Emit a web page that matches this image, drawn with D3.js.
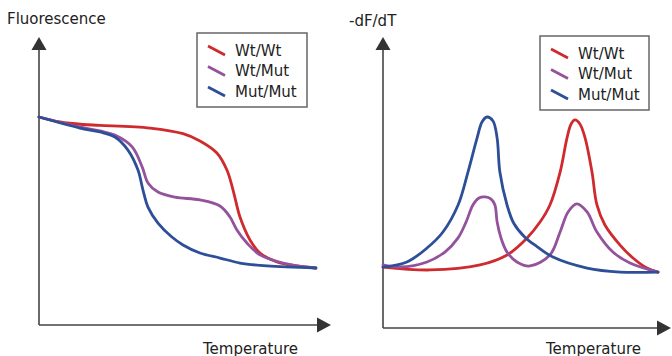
<!DOCTYPE html>
<html>
<head>
<meta charset="utf-8">
<script src="https://cdn.jsdelivr.net/npm/d3@7"></script>
<style>
  body { margin: 0; background: #fff; }
  text { font-family: 'DejaVu Sans', sans-serif; fill: #222; }
</style>
</head>
<body>
<div id="chart"></div>
<script>
// genotypes and colours
let genotypes = ['Wt/Wt', 'Wt/Mut', 'Mut/Mut']
let colors = ['#cf2a2d', '#94529c', '#2c4f98']

// melt curves: [temperature (0-100), fluorescence (0-100)]
let meltWtWt = [[0, 100], [7.6, 97.6], [15.8, 96.4], [21.9, 96.0], [39.9, 94.7], [51.8, 92.0],
  [57.9, 88.5], [64.0, 82.7], [67.6, 74.5], [69.8, 64.9], [72.3, 51.9], [75.9, 40.9],
  [79.5, 34.6], [85.6, 30.3], [92.8, 28.4], [99.6, 27.4]]
let meltWtMut = [[0, 100], [14.7, 95.2], [21.9, 93.3], [27.3, 91.3], [33.5, 85.6], [37.1, 76.0],
  [39.2, 68.3], [42.8, 63.9], [48.9, 61.5], [57.9, 60.1], [65.1, 57.2], [68.7, 51.9],
  [71.2, 45.7], [74.8, 39.4], [79.5, 33.7], [87.8, 29.8], [99.6, 27.4]]
let meltMutMut = [[0, 100], [14.7, 94.7], [21.9, 92.8], [27.3, 90.4], [32.0, 84.1], [35.6, 74.5],
  [37.4, 64.9], [39.2, 56.7], [42.8, 49.0], [47.8, 42.3], [51.8, 38.5], [57.9, 34.6],
  [65.1, 32.2], [72.3, 29.8], [82.0, 28.4], [99.6, 27.4]]

// derivative curves: [temperature (0-100), -dF/dT (0-100)]
let derivWtWt = [[0, 28.9], [17.1, 27.5], [35.3, 29.9], [45.1, 34.6], [52.4, 42.7], [57.1, 50.2],
  [60.7, 58.3], [64.4, 73.9], [66.9, 90.0], [68.4, 96.7], [69.8, 98.6], [71.6, 96.7],
  [73.5, 90.0], [76.0, 73.9], [77.8, 58.3], [80.7, 48.8], [86.2, 39.3], [90.9, 33.2],
  [96.0, 28.4], [100, 26.5]]
let derivWtMut = [[0, 29.9], [6.2, 28.9], [16.0, 31.3], [22.5, 36.0], [27.3, 42.7], [30.2, 50.2],
  [32.7, 58.3], [34.9, 61.6], [37.1, 62.1], [39.3, 61.1], [40.7, 58.3], [41.5, 50.2],
  [42.9, 42.7], [45.1, 36.0], [48.7, 31.3], [53.5, 29.4], [60.7, 34.6], [64.4, 45.5],
  [67.3, 55.0], [70.5, 58.8], [74.2, 55.0], [77.8, 45.5], [83.6, 36.0], [89.8, 30.8],
  [100, 26.5]]
let derivMutMut = [[0, 28.9], [8.7, 31.3], [16.0, 37.9], [21.8, 45.5], [27.3, 58.3], [30.9, 73.9],
  [34.2, 90.0], [36.0, 97.6], [37.8, 100], [40.0, 98.1], [41.5, 90.0], [42.5, 73.9],
  [45.1, 58.3], [47.6, 49.5], [51.6, 43.0], [56.0, 38.6], [61.8, 33.6], [74.2, 28.4],
  [86.2, 26.5], [100, 26.5]]

let width = 672
let height = 356

let svg = d3
  .select('#chart')
  .append('svg')
  .attr('width', width)
  .attr('height', height)

let axisColor = '#444'
let fontSize = 15

// one panel per plot
let panels = [
  {
    yLabel: 'Fluorescence', yLabelX: 7, yLabelY: 24,
    series: [meltWtWt, meltWtMut, meltMutMut],
    x: d3.scaleLinear().domain([0, 100]).range([39, 317]),
    y: d3.scaleLinear().domain([0, 100]).range([325, 117]),
    axisX0: 39, axisY0: 325, yTip: 37, xTip: 331,
    legend: { x: 197, y: 33, w: 110, h: 74, first: 50 },
    tempX: 203
  },
  {
    yLabel: '-dF/dT', yLabelX: 349, yLabelY: 26,
    series: [derivWtWt, derivWtMut, derivMutMut],
    x: d3.scaleLinear().domain([0, 100]).range([383, 658]),
    y: d3.scaleLinear().domain([0, 100]).range([328, 117]),
    axisX0: 383, axisY0: 328, yTip: 37, xTip: 671,
    legend: { x: 540, y: 36, w: 109, h: 74, first: 53 },
    tempX: 546
  }
]

panels.forEach(function(p) {
  let g = svg.append('g')

  // axes: plain lines with filled arrow heads
  g.append('line')
    .attr('x1', p.axisX0).attr('y1', p.axisY0)
    .attr('x2', p.axisX0).attr('y2', p.yTip + 12)
    .attr('stroke', axisColor).attr('stroke-width', 1.6)
  g.append('path')
    .attr('d', `M${p.axisX0},${p.yTip} L${p.axisX0 - 7.5},${p.yTip + 13} L${p.axisX0 + 7.5},${p.yTip + 13}Z`)
    .attr('fill', '#333')
  g.append('line')
    .attr('x1', p.axisX0).attr('y1', p.axisY0)
    .attr('x2', p.xTip - 12).attr('y2', p.axisY0)
    .attr('stroke', axisColor).attr('stroke-width', 1.6)
  g.append('path')
    .attr('d', `M${p.xTip},${p.axisY0} L${p.xTip - 14},${p.axisY0 - 7.5} L${p.xTip - 14},${p.axisY0 + 7.5}Z`)
    .attr('fill', '#333')

  g.append('text')
    .attr('x', p.yLabelX).attr('y', p.yLabelY)
    .attr('font-size', fontSize)
    .text(p.yLabel)
  g.append('text')
    .attr('x', p.tempX).attr('y', 354)
    .attr('font-size', fontSize)
    .text('Temperature')

  let line = d3.line()
    .x(d => p.x(d[0]))
    .y(d => p.y(d[1]))
    .curve(d3.curveCatmullRom.alpha(0.5))

  g.selectAll('.curve')
    .data(p.series)
    .enter()
    .append('path')
    .attr('class', 'curve')
    .attr('d', line)
    .attr('fill', 'none')
    .attr('stroke', (d, i) => colors[i])
    .attr('stroke-width', 2.8)
    .attr('stroke-linejoin', 'round')
    .attr('stroke-linecap', 'round')

  // legend
  let lg = p.legend
  g.append('rect')
    .attr('x', lg.x).attr('y', lg.y)
    .attr('width', lg.w).attr('height', lg.h)
    .attr('fill', '#fff')
    .attr('stroke', '#666')
    .attr('stroke-width', 1.5)
  genotypes.forEach(function(name, i) {
    let cy = lg.first + i * 20.5
    g.append('line')
      .attr('x1', lg.x + 11).attr('y1', cy - 4)
      .attr('x2', lg.x + 28).attr('y2', cy + 5)
      .attr('stroke', colors[i])
      .attr('stroke-width', 2.8)
    g.append('text')
      .attr('x', lg.x + 38).attr('y', cy + 5.5)
      .attr('font-size', fontSize)
      .text(name)
  })
})
</script>
</body>
</html>
